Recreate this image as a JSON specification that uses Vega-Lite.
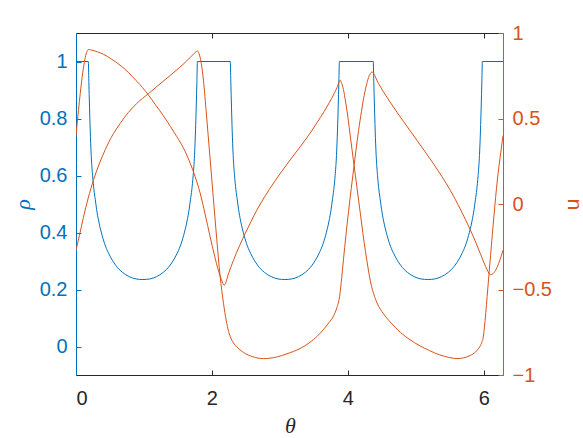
{
  "$schema": "https://vega.github.io/schema/vega-lite/v6.json",
  "width": 427,
  "height": 342,
  "autosize": "none",
  "padding": {"left": 76, "top": 33, "right": 80, "bottom": 63},
  "background": "white",
  "config": {
    "view": {"stroke": null},
    "axis": {"grid": false, "labelFont": "Liberation Sans", "labelFontSize": 20, "tickSize": -5, "domainWidth": 1, "tickWidth": 1, "labelPadding": 14, "titleFontWeight": "normal"}
  },
  "datasets": {
    "rho": [
      {"t":0,"r":1},{"t":0.181,"r":1},{"t":0.189,"r":0.93},{"t":0.199,"r":0.84},{"t":0.209,"r":0.76},{"t":0.224,"r":0.67},{"t":0.244,"r":0.6},{"t":0.264,"r":0.55},{"t":0.284,"r":0.515},{"t":0.304,"r":0.48},{"t":0.334,"r":0.44},{"t":0.384,"r":0.39},{"t":0.434,"r":0.352},{"t":0.484,"r":0.325},{"t":0.584,"r":0.285},{"t":0.684,"r":0.26},{"t":0.784,"r":0.245},{"t":0.884,"r":0.237},{"t":0.984,"r":0.235},{"t":1.084,"r":0.237},{"t":1.184,"r":0.245},{"t":1.284,"r":0.26},{"t":1.384,"r":0.285},{"t":1.484,"r":0.325},{"t":1.534,"r":0.352},{"t":1.584,"r":0.39},{"t":1.634,"r":0.44},{"t":1.664,"r":0.48},{"t":1.684,"r":0.515},{"t":1.704,"r":0.55},{"t":1.724,"r":0.6},{"t":1.744,"r":0.67},{"t":1.759,"r":0.76},{"t":1.769,"r":0.84},{"t":1.779,"r":0.93},{"t":1.787,"r":1},
      {"t":2.27,"r":1},{"t":2.278,"r":0.93},{"t":2.288,"r":0.84},{"t":2.298,"r":0.76},{"t":2.313,"r":0.67},{"t":2.333,"r":0.6},{"t":2.353,"r":0.55},{"t":2.373,"r":0.515},{"t":2.393,"r":0.48},{"t":2.423,"r":0.44},{"t":2.473,"r":0.39},{"t":2.523,"r":0.352},{"t":2.573,"r":0.325},{"t":2.673,"r":0.285},{"t":2.773,"r":0.26},{"t":2.873,"r":0.245},{"t":2.973,"r":0.237},{"t":3.073,"r":0.235},{"t":3.173,"r":0.237},{"t":3.273,"r":0.245},{"t":3.373,"r":0.26},{"t":3.473,"r":0.285},{"t":3.573,"r":0.325},{"t":3.623,"r":0.352},{"t":3.673,"r":0.39},{"t":3.723,"r":0.44},{"t":3.753,"r":0.48},{"t":3.773,"r":0.515},{"t":3.793,"r":0.55},{"t":3.813,"r":0.6},{"t":3.833,"r":0.67},{"t":3.848,"r":0.76},{"t":3.858,"r":0.84},{"t":3.868,"r":0.93},{"t":3.876,"r":1},
      {"t":4.374,"r":1},{"t":4.382,"r":0.93},{"t":4.392,"r":0.84},{"t":4.402,"r":0.76},{"t":4.417,"r":0.67},{"t":4.437,"r":0.6},{"t":4.457,"r":0.55},{"t":4.477,"r":0.515},{"t":4.497,"r":0.48},{"t":4.527,"r":0.44},{"t":4.577,"r":0.39},{"t":4.627,"r":0.352},{"t":4.677,"r":0.325},{"t":4.777,"r":0.285},{"t":4.877,"r":0.26},{"t":4.977,"r":0.245},{"t":5.077,"r":0.237},{"t":5.177,"r":0.235},{"t":5.277,"r":0.237},{"t":5.377,"r":0.245},{"t":5.477,"r":0.26},{"t":5.577,"r":0.285},{"t":5.677,"r":0.325},{"t":5.727,"r":0.352},{"t":5.777,"r":0.39},{"t":5.827,"r":0.44},{"t":5.857,"r":0.48},{"t":5.877,"r":0.515},{"t":5.897,"r":0.55},{"t":5.917,"r":0.6},{"t":5.937,"r":0.67},{"t":5.952,"r":0.76},{"t":5.962,"r":0.84},{"t":5.972,"r":0.93},{"t":5.98,"r":1},{"t":6.2832,"r":1}
    ],
    "u": [
      {"s":"P","t":0,"u":0.4},{"s":"P","t":0.05,"u":0.6},{"s":"P","t":0.1,"u":0.77},{"s":"P","t":0.13,"u":0.845},{"s":"P","t":0.155,"u":0.885},{"s":"P","t":0.181,"u":0.903},{"s":"P","t":0.25,"u":0.898},{"s":"P","t":0.32,"u":0.889},{"s":"P","t":0.402,"u":0.876},{"s":"P","t":0.52,"u":0.848},{"s":"P","t":0.648,"u":0.812},{"s":"P","t":0.77,"u":0.77},{"s":"P","t":0.894,"u":0.718},{"s":"P","t":0.98,"u":0.68},{"s":"P","t":1.065,"u":0.638},{"s":"P","t":1.17,"u":0.58},{"s":"P","t":1.286,"u":0.516},{"s":"P","t":1.39,"u":0.453},{"s":"P","t":1.483,"u":0.394},{"s":"P","t":1.58,"u":0.328},{"s":"P","t":1.679,"u":0.24},{"s":"P","t":1.75,"u":0.163},{"s":"P","t":1.826,"u":0.065},{"s":"P","t":1.9,"u":-0.06},{"s":"P","t":1.973,"u":-0.19},{"s":"P","t":2.04,"u":-0.305},{"s":"P","t":2.096,"u":-0.39},{"s":"P","t":2.14,"u":-0.442},{"s":"P","t":2.18,"u":-0.475},{"s":"P","t":2.25,"u":-0.4},{"s":"P","t":2.317,"u":-0.329},{"s":"P","t":2.4,"u":-0.25},{"s":"P","t":2.489,"u":-0.173},{"s":"P","t":2.575,"u":-0.103},{"s":"P","t":2.661,"u":-0.036},{"s":"P","t":2.78,"u":0.045},{"s":"P","t":2.906,"u":0.122},{"s":"P","t":3.03,"u":0.192},{"s":"P","t":3.152,"u":0.258},{"s":"P","t":3.299,"u":0.335},{"s":"P","t":3.446,"u":0.415},{"s":"P","t":3.545,"u":0.475},{"s":"P","t":3.65,"u":0.54},{"s":"P","t":3.73,"u":0.595},{"s":"P","t":3.789,"u":0.638},{"s":"P","t":3.84,"u":0.68},{"s":"P","t":3.888,"u":0.724},{"s":"P","t":3.91,"u":0.705},{"s":"P","t":3.935,"u":0.67},{"s":"P","t":3.97,"u":0.59},{"s":"P","t":4.0,"u":0.51},{"s":"P","t":4.04,"u":0.385},{"s":"P","t":4.08,"u":0.262},{"s":"P","t":4.12,"u":0.14},{"s":"P","t":4.16,"u":0.018},{"s":"P","t":4.2,"u":-0.105},{"s":"P","t":4.24,"u":-0.225},{"s":"P","t":4.28,"u":-0.33},{"s":"P","t":4.315,"u":-0.415},{"s":"P","t":4.345,"u":-0.475},{"s":"P","t":4.38,"u":-0.525},{"s":"P","t":4.429,"u":-0.578},{"s":"P","t":4.526,"u":-0.643},{"s":"P","t":4.624,"u":-0.69},{"s":"P","t":4.772,"u":-0.75},{"s":"P","t":4.919,"u":-0.795},{"s":"P","t":5.05,"u":-0.827},{"s":"P","t":5.2,"u":-0.857},{"s":"P","t":5.35,"u":-0.882},{"s":"P","t":5.5,"u":-0.898},{"s":"P","t":5.607,"u":-0.904},{"s":"P","t":5.7,"u":-0.9},{"s":"P","t":5.8,"u":-0.886},{"s":"P","t":5.88,"u":-0.865},{"s":"P","t":5.94,"u":-0.835},{"s":"P","t":5.975,"u":-0.805},{"s":"P","t":5.99,"u":-0.785},{"s":"P","t":6.01,"u":-0.72},{"s":"P","t":6.05,"u":-0.54},{"s":"P","t":6.1,"u":-0.3},{"s":"P","t":6.15,"u":-0.07},{"s":"P","t":6.2,"u":0.14},{"s":"P","t":6.25,"u":0.3},{"s":"P","t":6.2832,"u":0.4},
      {"s":"Q","t":0,"u":-0.27},{"s":"Q","t":0.05,"u":-0.185},{"s":"Q","t":0.108,"u":-0.08},{"s":"Q","t":0.18,"u":0.035},{"s":"Q","t":0.255,"u":0.137},{"s":"Q","t":0.33,"u":0.222},{"s":"Q","t":0.402,"u":0.292},{"s":"Q","t":0.52,"u":0.39},{"s":"Q","t":0.648,"u":0.47},{"s":"Q","t":0.77,"u":0.535},{"s":"Q","t":0.894,"u":0.588},{"s":"Q","t":1.065,"u":0.645},{"s":"Q","t":1.22,"u":0.697},{"s":"Q","t":1.384,"u":0.751},{"s":"Q","t":1.52,"u":0.797},{"s":"Q","t":1.63,"u":0.837},{"s":"Q","t":1.72,"u":0.873},{"s":"Q","t":1.765,"u":0.89},{"s":"Q","t":1.787,"u":0.895},{"s":"Q","t":1.81,"u":0.88},{"s":"Q","t":1.84,"u":0.83},{"s":"Q","t":1.875,"u":0.724},{"s":"Q","t":1.92,"u":0.52},{"s":"Q","t":1.97,"u":0.28},{"s":"Q","t":2.02,"u":0.04},{"s":"Q","t":2.07,"u":-0.2},{"s":"Q","t":2.12,"u":-0.42},{"s":"Q","t":2.17,"u":-0.58},{"s":"Q","t":2.21,"u":-0.68},{"s":"Q","t":2.245,"u":-0.745},{"s":"Q","t":2.28,"u":-0.785},{"s":"Q","t":2.33,"u":-0.82},{"s":"Q","t":2.4,"u":-0.848},{"s":"Q","t":2.464,"u":-0.868},{"s":"Q","t":2.6,"u":-0.893},{"s":"Q","t":2.759,"u":-0.904},{"s":"Q","t":2.95,"u":-0.895},{"s":"Q","t":3.103,"u":-0.876},{"s":"Q","t":3.299,"u":-0.845},{"s":"Q","t":3.446,"u":-0.808},{"s":"Q","t":3.545,"u":-0.775},{"s":"Q","t":3.65,"u":-0.73},{"s":"Q","t":3.72,"u":-0.695},{"s":"Q","t":3.789,"u":-0.655},{"s":"Q","t":3.84,"u":-0.605},{"s":"Q","t":3.878,"u":-0.543},{"s":"Q","t":3.91,"u":-0.43},{"s":"Q","t":3.937,"u":-0.32},{"s":"Q","t":3.97,"u":-0.19},{"s":"Q","t":4.01,"u":-0.045},{"s":"Q","t":4.05,"u":0.09},{"s":"Q","t":4.084,"u":0.2},{"s":"Q","t":4.12,"u":0.315},{"s":"Q","t":4.158,"u":0.43},{"s":"Q","t":4.2,"u":0.54},{"s":"Q","t":4.231,"u":0.615},{"s":"Q","t":4.27,"u":0.69},{"s":"Q","t":4.305,"u":0.74},{"s":"Q","t":4.33,"u":0.762},{"s":"Q","t":4.355,"u":0.772},{"s":"Q","t":4.45,"u":0.705},{"s":"Q","t":4.526,"u":0.655},{"s":"Q","t":4.62,"u":0.597},{"s":"Q","t":4.723,"u":0.537},{"s":"Q","t":4.82,"u":0.482},{"s":"Q","t":4.919,"u":0.427},{"s":"Q","t":5.018,"u":0.372},{"s":"Q","t":5.14,"u":0.304},{"s":"Q","t":5.262,"u":0.234},{"s":"Q","t":5.385,"u":0.16},{"s":"Q","t":5.508,"u":0.08},{"s":"Q","t":5.58,"u":0.028},{"s":"Q","t":5.655,"u":-0.03},{"s":"Q","t":5.73,"u":-0.09},{"s":"Q","t":5.803,"u":-0.152},{"s":"Q","t":5.88,"u":-0.222},{"s":"Q","t":5.95,"u":-0.29},{"s":"Q","t":6.0,"u":-0.34},{"s":"Q","t":6.05,"u":-0.385},{"s":"Q","t":6.097,"u":-0.414},{"s":"Q","t":6.15,"u":-0.402},{"s":"Q","t":6.196,"u":-0.37},{"s":"Q","t":6.24,"u":-0.325},{"s":"Q","t":6.2832,"u":-0.27}
    ]
  },
  "layer": [
    {
      "data": {"name": "rho"},
      "mark": {"type": "line", "color": "#0072BD", "strokeWidth": 1, "interpolate": "monotone", "clip": true},
      "encoding": {
        "x": {"field": "t", "type": "quantitative", "scale": {"domain": [0, 6.2832], "nice": false, "zero": false},
          "axis": {"orient": "bottom", "values": [0, 2, 4, 6], "format": "~g", "title": "θ", "titleFont": "Liberation Serif", "titleFontStyle": "italic", "titleFontSize": 22, "titleColor": "#262626", "titleX": 214, "titleY": 50, "titleBaseline": "middle", "titleAlign": "center", "labelColor": "#262626", "domainColor": "#262626", "tickColor": "#262626", "labelPadding": 18}},
        "y": {"field": "r", "type": "quantitative", "scale": {"domain": [-0.1, 1.1], "nice": false, "zero": false},
          "axis": {"orient": "left", "values": [0, 0.2, 0.4, 0.6, 0.8, 1], "format": "~g", "title": "ρ", "titleFont": "Liberation Serif", "titleFontStyle": "italic", "titleFontSize": 22, "titleColor": "#0072BD", "titleX": -54, "titleY": 171, "titleBaseline": "middle", "titleAlign": "center", "titleAngle": 270, "labelColor": "#0072BD", "domainColor": "#0072BD", "tickColor": "#0072BD"}}
      }
    },
    {
      "data": {"name": "u"},
      "mark": {"type": "line", "color": "#D95319", "strokeWidth": 1, "interpolate": "monotone", "clip": true},
      "encoding": {
        "x": {"field": "t", "type": "quantitative", "scale": {"domain": [0, 6.2832], "nice": false, "zero": false},
          "axis": {"orient": "top", "values": [0, 2, 4, 6], "labels": false, "title": null, "domainColor": "#262626", "tickColor": "#262626"}},
        "y": {"field": "u", "type": "quantitative", "scale": {"domain": [-1, 1], "nice": false, "zero": false},
          "axis": {"orient": "right", "values": [-1, -0.5, 0, 0.5, 1], "format": "~g", "title": "u", "titleFont": "Liberation Sans", "titleFontSize": 21, "titleColor": "#D95319", "titleX": 69, "titleY": 171, "titleBaseline": "middle", "titleAlign": "center", "titleAngle": 270, "labelColor": "#D95319", "domainColor": "#D95319", "tickColor": "#D95319"}},
        "detail": {"field": "s"}
      }
    }
  ],
  "resolve": {"scale": {"y": "independent"}, "axis": {"x": "independent", "y": "independent"}}
}
